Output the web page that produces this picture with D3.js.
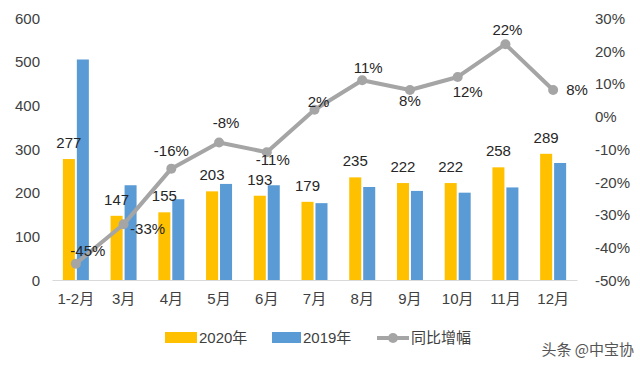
<!DOCTYPE html>
<html>
<head>
<meta charset="utf-8">
<script src="https://cdn.jsdelivr.net/npm/d3@7"></script>
<style>
  html, body { margin: 0; padding: 0; background: #fff; }
  svg { display: block; }
  text { font-family: "Liberation Sans", "Noto Sans CJK SC", sans-serif; }
</style>
</head>
<body>
<svg id="chart" width="640" height="365"></svg>
<script>
// ---- data ----
const categories = ["1-2月", "3月", "4月", "5月", "6月", "7月", "8月", "9月", "10月", "11月", "12月"];
const values2020 = [277, 147, 155, 203, 193, 179, 235, 222, 222, 258, 289];
const values2019 = [505, 217, 185, 220, 217, 176, 213, 204, 200, 212, 268];
const growth = [-45, -33, -16, -8, -11, 2, 11, 8, 12, 22, 8];
const leftTicks = [0, 100, 200, 300, 400, 500, 600];
const rightTicks = [-50, -40, -30, -20, -10, 0, 10, 20, 30];
const seriesNames = ["2020年", "2019年", "同比增幅"];
const watermark = "头条 @中宝协";

// label placement (dx, dy) for growth labels relative to the points
const growthLabelOffsets = [[12, -8], [24, 10], [0, -13], [7, -14], [6, 13], [4, -3], [6, -7], [0, 16], [10, 20], [2, -9], [24, 5]];

// ---- layout ----
const svg = d3.select("#chart");
const plot = { left: 52, right: 577, top: 18, bottom: 280 };
const colors = { y2020: "#FFC000", y2019: "#5B9BD5", growth: "#A5A5A5", text: "#262626", axis: "#404040" };

const x = d3.scaleBand().domain(categories).range([plot.left, plot.right]).paddingInner(0).paddingOuter(0);
const xSub = d3.scaleBand().domain(["2020", "2019"]).range([x.bandwidth() / 2 - 13, x.bandwidth() / 2 + 13]).paddingInner(0.14);
const yL = d3.scaleLinear().domain([0, 600]).range([plot.bottom, plot.top]);
const yR = d3.scaleLinear().domain([-50, 30]).range([plot.bottom, plot.top]);

// left axis
const leftAxis = svg.append("g").attr("transform", `translate(${plot.left - 12},0)`)
  .call(d3.axisLeft(yL).tickValues(leftTicks).tickSize(0).tickPadding(0));
leftAxis.select(".domain").remove();
leftAxis.selectAll("text").attr("font-size", 15).attr("fill", colors.axis)
  .style("font-family", '"Liberation Sans", sans-serif').attr("dy", "0.35em");

// right axis
const rightAxis = svg.append("g").attr("transform", `translate(${plot.right + 18},0)`)
  .call(d3.axisRight(yR).tickValues(rightTicks).tickSize(0).tickPadding(0).tickFormat(d => d + "%"));
rightAxis.select(".domain").remove();
rightAxis.selectAll("text").attr("font-size", 15).attr("fill", colors.axis)
  .style("font-family", '"Liberation Sans", sans-serif').attr("dy", "0.35em");

// bottom axis
const bottomAxis = svg.append("g").attr("transform", `translate(0,${plot.bottom})`)
  .call(d3.axisBottom(x).tickSize(0).tickPadding(13));
bottomAxis.select(".domain").attr("stroke", "#D9D9D9").attr("stroke-width", 1.2);
bottomAxis.selectAll("text").attr("font-size", 15).attr("fill", colors.axis)
  .style("font-family", '"Liberation Sans", "Noto Sans CJK SC", sans-serif');

// bars
const groups = svg.append("g").selectAll("g").data(categories).join("g")
  .attr("transform", d => `translate(${x(d)},0)`);
groups.append("rect")
  .attr("x", xSub("2020")).attr("width", xSub.bandwidth())
  .attr("y", (d, i) => yL(values2020[i])).attr("height", (d, i) => yL(0) - yL(values2020[i]))
  .attr("fill", colors.y2020);
groups.append("rect")
  .attr("x", xSub("2019")).attr("width", xSub.bandwidth())
  .attr("y", (d, i) => yL(values2019[i])).attr("height", (d, i) => yL(0) - yL(values2019[i]))
  .attr("fill", colors.y2019);
groups.append("text")
  .attr("x", xSub("2020") + xSub.bandwidth() / 2)
  .attr("y", (d, i) => yL(values2020[i]) - 11)
  .attr("text-anchor", "middle").attr("font-size", 15).attr("fill", colors.text)
  .text((d, i) => values2020[i]);

// growth line
const cx = d => x(d) + x.bandwidth() / 2;
const line = d3.line().x((d, i) => cx(categories[i])).y(d => yR(d));
svg.append("path").datum(growth).attr("d", line)
  .attr("fill", "none").attr("stroke", colors.growth).attr("stroke-width", 4).attr("stroke-linejoin", "round");
svg.append("g").selectAll("circle").data(growth).join("circle")
  .attr("cx", (d, i) => cx(categories[i])).attr("cy", d => yR(d)).attr("r", 5)
  .attr("fill", colors.growth);
svg.append("g").selectAll("text").data(growth).join("text")
  .attr("x", (d, i) => cx(categories[i]) + growthLabelOffsets[i][0])
  .attr("y", (d, i) => yR(d) + growthLabelOffsets[i][1])
  .attr("text-anchor", "middle").attr("font-size", 15).attr("fill", colors.text)
  .text(d => d + "%");

// legend
const legend = svg.append("g").attr("transform", "translate(0,338)");
legend.append("rect").attr("x", 165).attr("y", -6).attr("width", 32).attr("height", 11).attr("fill", colors.y2020);
legend.append("text").attr("x", 199).attr("y", 0).attr("dy", "0.35em").attr("font-size", 15).attr("fill", colors.axis).text(seriesNames[0]);
legend.append("rect").attr("x", 272).attr("y", -6).attr("width", 29).attr("height", 11).attr("fill", colors.y2019);
legend.append("text").attr("x", 303).attr("y", 0).attr("dy", "0.35em").attr("font-size", 15).attr("fill", colors.axis).text(seriesNames[1]);
legend.append("line").attr("x1", 377).attr("x2", 409).attr("y1", 0).attr("y2", 0).attr("stroke", colors.growth).attr("stroke-width", 4);
legend.append("circle").attr("cx", 393).attr("cy", 0).attr("r", 5).attr("fill", colors.growth);
legend.append("text").attr("x", 411).attr("y", 0).attr("dy", "0.35em").attr("font-size", 15).attr("fill", colors.axis).text(seriesNames[2]);

// watermark
svg.append("text").attr("x", 634).attr("y", 355).attr("text-anchor", "end")
  .attr("font-size", 15).attr("fill", "#555").style("font-family", '"Noto Sans CJK SC", sans-serif')
  .text(watermark);
</script>
</body>
</html>
